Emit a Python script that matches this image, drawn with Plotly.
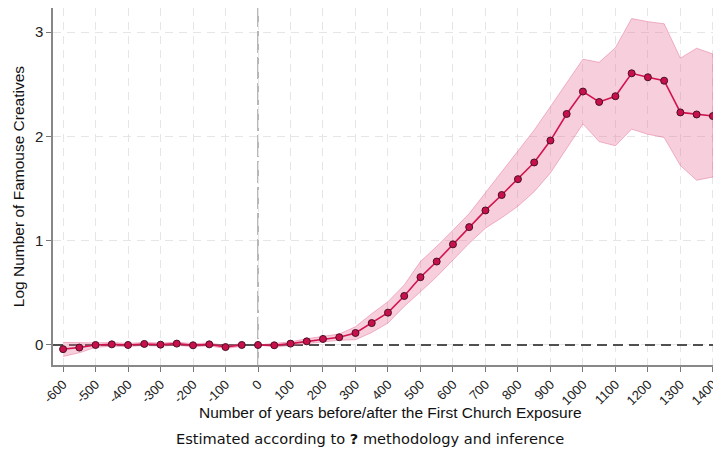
import plotly.graph_objects as go

# Pre-period (event time before exposure)
pre_years = [-600, -550, -500, -450, -400, -350, -300, -250, -200, -150, -100, -50]
pre_coef = [-0.04, -0.025, 0.0, 0.006, 0.0, 0.01, 0.003, 0.013, -0.003, 0.006, -0.02, 0.0]
pre_lo = [-0.11, -0.075, -0.022, -0.012, -0.015, -0.005, -0.012, -0.002, -0.018, -0.008, -0.035, -0.012]
pre_hi = [0.025, 0.022, 0.02, 0.024, 0.015, 0.025, 0.018, 0.028, 0.012, 0.02, -0.005, 0.012]

# Post-period
post_years = [0, 50, 100, 150, 200, 250, 300, 350, 400, 450, 500, 550, 600, 650, 700,
              750, 800, 850, 900, 950, 1000, 1050, 1100, 1150, 1200, 1250, 1300, 1350, 1400]
post_coef = [0.0, -0.003, 0.013, 0.035, 0.058, 0.074, 0.115, 0.21, 0.31, 0.47, 0.65, 0.80,
             0.965, 1.13, 1.29, 1.438, 1.59, 1.75, 1.96, 2.215, 2.43, 2.33, 2.385, 2.605,
             2.567, 2.534, 2.23, 2.21, 2.195]
post_lo = [0.0, -0.02, -0.005, 0.01, 0.03, 0.045, 0.05, 0.12, 0.21, 0.37, 0.51, 0.655,
           0.815, 0.975, 1.12, 1.22, 1.33, 1.47, 1.65, 1.885, 2.12, 1.95, 1.91, 2.07,
           2.02, 1.99, 1.72, 1.58, 1.61]
post_hi = [0.0, 0.015, 0.03, 0.06, 0.085, 0.105, 0.175, 0.30, 0.415, 0.575, 0.80, 0.945,
           1.10, 1.26, 1.46, 1.66, 1.85, 2.06, 2.285, 2.51, 2.74, 2.71, 2.85, 3.13,
           3.10, 3.08, 2.75, 2.845, 2.79]

x_ticks = list(range(-600, 1401, 100))
x_ticktext = [str(v) for v in x_ticks]
y_ticks = [0, 1, 2, 3]
x_range = [-631, 1425]
y_range = [-0.192, 3.231]

line_col = "#d2134f"
band_fill = "rgba(232, 110, 150, 0.33)"
band_edge = "rgba(225, 95, 140, 0.55)"
marker_col = "#c8104a"
marker_edge = "#4a1028"

fig = go.Figure()

# zero reference line (drawn first so marks sit on top)
fig.add_trace(go.Scatter(x=x_range, y=[0, 0], mode="lines",
                         line=dict(color="#505050", width=2.2, dash="10px,6px"),
                         hoverinfo="skip", showlegend=False))

for yrs, lo, hi in [(pre_years, pre_lo, pre_hi), (post_years, post_lo, post_hi)]:
    fig.add_trace(go.Scatter(
        x=yrs + yrs[::-1], y=hi + lo[::-1], fill="toself",
        fillcolor=band_fill, line=dict(color=band_edge, width=0.8),
        mode="lines", hoverinfo="skip", showlegend=False))

for yrs, cf in [(pre_years, pre_coef), (post_years, post_coef)]:
    fig.add_trace(go.Scatter(
        x=yrs, y=cf, mode="lines+markers",
        line=dict(color=line_col, width=1.6),
        marker=dict(size=7, color=marker_col, line=dict(color=marker_edge, width=1)),
        showlegend=False))

# event line
fig.add_shape(type="line", xref="x", x0=0, x1=0, yref="paper", y0=0, y1=1,
              line=dict(color="#a0a0a0", width=1.5, dash="22px,4px"), layer="below")

# page body has an 8px margin: figure is 713x441 and offset by 8px
fig.update_layout(
    width=713, height=441,
    margin=dict(l=45, r=0, t=0, b=84, autoexpand=False),
    paper_bgcolor="white", plot_bgcolor="white",
    font=dict(family="Liberation Sans, Arial, sans-serif", size=14, color="#222222"),
    xaxis=dict(
        range=x_range, tickmode="array", tickvals=x_ticks, ticktext=x_ticktext,
        tickangle=-45, ticks="outside", ticklen=5, tickcolor="#777777",
        showline=True, linecolor="#888888", linewidth=1.5, automargin=False,
        showgrid=True, gridcolor="#e6e6e6", griddash="8px,6px", gridwidth=1,
        zeroline=False, tickfont=dict(size=13, color="#222222")),
    yaxis=dict(
        range=y_range, tickmode="array", tickvals=y_ticks,
        ticks="outside", ticklen=5, tickcolor="#777777",
        showline=True, linecolor="#888888", linewidth=1.5, automargin=False,
        showgrid=True, gridcolor="#e6e6e6", griddash="8px,6px", gridwidth=1,
        zeroline=False, tickfont=dict(size=15, color="#222222")),
    annotations=[
        dict(text="Number of years before/after the First Church Exposure",
             xref="paper", yref="paper", x=0.5045, y=-0.1317, xanchor="center", yanchor="middle",
             showarrow=False, font=dict(family="Liberation Sans, Arial, sans-serif", size=15.5, color="#111111")),
        dict(text="Estimated according to <b>?</b> methodology and inference",
             xref="paper", yref="paper", x=0.4746, y=-0.207, xanchor="center", yanchor="middle",
             showarrow=False, font=dict(family="DejaVu Sans, sans-serif", size=14.6, color="#111111")),
        dict(text="Log Number of Famouse Creatives", textangle=-90,
             xref="paper", yref="paper", x=-0.0524, y=0.501, xanchor="center", yanchor="middle",
             showarrow=False, font=dict(family="Liberation Sans, Arial, sans-serif", size=15.5, color="#111111")),
    ],
)

fig.write_html("out.html")
